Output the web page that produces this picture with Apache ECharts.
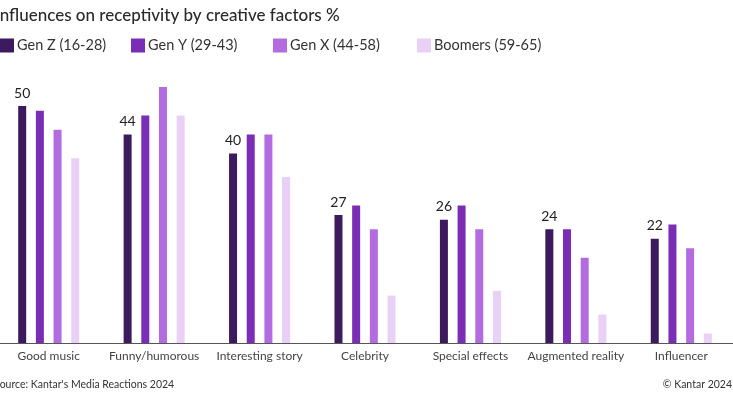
<!DOCTYPE html>
<html><head><meta charset="utf-8">
<script src="https://cdn.jsdelivr.net/npm/echarts@6/dist/echarts.min.js"></script>
<style>html,body{margin:0;padding:0;background:#fff;overflow:hidden;width:733px;height:400px;position:relative}#c{width:745px;height:400px;position:absolute;left:-10px;top:0}</style>
</head><body><div id="c"></div>
<script>
var categories = ["Good music","Funny/humorous","Interesting story","Celebrity","Special effects","Augmented reality","Influencer"];
var seriesNames = ["Gen Z (16-28)","Gen Y (29-43)","Gen X (44-58)","Boomers (59-65)"];
var genZ = [50,44,40,27,26,24,22];
var genY = [49,48,44,29,29,24,25];
var genX = [45,54,44,24,24,18,20];
var boomers = [39,48,35,10,11,6,2];
var colors = ["#3c1a5e","#7a2db5","#b36ce0","#e8d0f6"];
var FONT = "Lato, 'Noto Sans', sans-serif";
var allData = [genZ, genY, genX, boomers];
var legendLefts = [10, 141, 283, 427];

var series = allData.map(function(d, i){
  var s = {
    name: seriesNames[i], type: 'bar', data: d, barWidth: 8, barGap: '121%',
    itemStyle: {color: colors[i]}, animation: false
  };
  if (i === 0) {
    s.label = {show: true, position: 'top', distance: 6, color: '#222', fontSize: 14, fontFamily: FONT};
  }
  return s;
});
var legends = seriesNames.map(function(n, i){
  return {data: [n], left: legendLefts[i], top: 38, itemWidth: 14, itemHeight: 14, itemGap: 6,
    icon: 'rect', textStyle: {fontSize: 14.5, color: '#333', fontFamily: FONT, padding: [0,0,0,-2]}, padding: 0};
});
var chart = echarts.init(document.getElementById('c'), null, {renderer: 'canvas'});
chart.setOption({
  animation: false,
  color: colors,
  title: {text: 'Influences on receptivity by creative factors %', left: 5, top: 7, padding: 0,
    textStyle: {fontSize: 17, fontWeight: 500, color: '#2a2a2a', fontFamily: FONT}},
  legend: legends,
  grid: {left: 6, right: 1, top: 58.6, bottom: 57, containLabel: false},
  xAxis: {type: 'category', data: categories,
    axisLine: {lineStyle: {color: '#555', width: 1}}, axisTick: {show: false},
    axisLabel: {color: '#444', fontSize: 12, fontFamily: FONT, margin: 7, interval: 0}},
  yAxis: {type: 'value', min: 0, max: 60, show: false, splitLine: {show: false}},
  graphic: [
    {type: 'text', left: 4, top: 379, style: {text: "Source: Kantar's Media Reactions 2024", fontSize: 10.5, fill: '#333', fontFamily: FONT}},
    {type: 'text', right: 3, top: 379, style: {text: "© Kantar 2024", fontSize: 10.5, fill: '#333', fontFamily: FONT}}
  ],
  series: series
});
</script></body></html>
